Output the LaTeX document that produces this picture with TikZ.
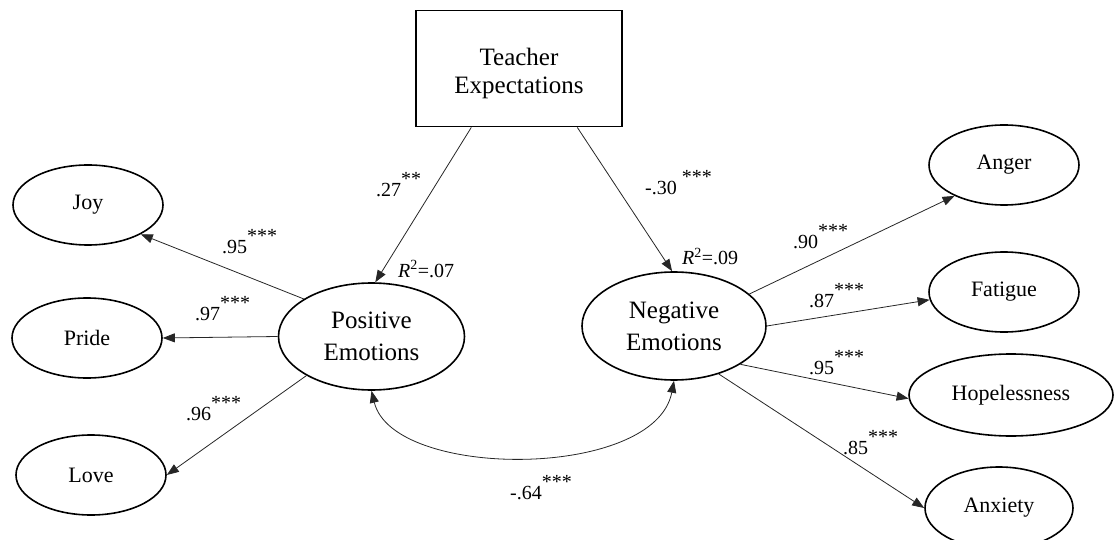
\documentclass[tikz,border=0pt]{standalone}
\usepackage{fontspec}
\setmainfont{Liberation Serif}
\usetikzlibrary{shapes.geometric,arrows.meta}
\newcommand\sigstars[1]{\raisebox{11pt}{#1}}
\begin{document}
\begin{tikzpicture}[x=1pt,y=-1pt,
  latent/.style={ellipse,draw,line width=1.6pt,inner sep=0pt,align=center,
    font=\fontsize{25}{32}\selectfont,minimum width=186pt,minimum height=107pt},
  indicator/.style={ellipse,draw,line width=1.6pt,inner sep=0pt,
    font=\fontsize{22}{26}\selectfont,minimum width=150pt,minimum height=80pt},
  observed/.style={draw,line width=1.4pt,inner sep=0pt,
    font=\fontsize{25}{28.7}\selectfont,minimum width=206pt,minimum height=116pt},
  tip/.tip={Triangle[length=12pt,width=9pt]},
  regpath/.style={draw=black!85,line width=0.8pt,-tip},
  covpath/.style={draw=black!85,line width=0.8pt,tip-tip},
  coef/.style={inner sep=0pt,anchor=base west,font=\fontsize{20}{24}\selectfont},
]
\useasboundingbox (0,0) rectangle (1114,540);

% structural model (extra headroom sets the two lines a little low in the box)
\node[observed] (teacher) at (519,68.7)
  {\raisebox{0pt}[\dimexpr\height+10pt\relax][\depth]{\begin{tabular}{@{}c@{}}Teacher\\Expectations\end{tabular}}};
\node[latent] (pos) at (371.5,336.5) {Positive\\Emotions};
\node[latent,minimum width=184pt,minimum height=108pt] (neg) at (674,326) {Negative\\Emotions};

% indicators of positive emotions
\node[indicator] (joy) at (88,205) {Joy};
\node[indicator] (pride) at (87,338) {Pride};
\node[indicator] (love) at (91,475) {Love};

% indicators of negative emotions
\node[indicator] (anger) at (1004,165) {Anger};
\node[indicator] (fatigue) at (1004,292) {Fatigue};
\node[indicator,minimum width=204pt,minimum height=82pt] (hope) at (1011,395) {Hopelessness};
\node[indicator,minimum width=148pt,minimum height=82pt] (anx) at (999,508) {Anxiety};

% paths
\draw[regpath] ([xshift=56pt]teacher.south west) -- (pos.86);
\draw[regpath] ([xshift=162pt]teacher.south west) -- (neg.92);
\draw[regpath] (pos.151) -- (joy.-29);
\draw[regpath] (pos.west) -- (pride.east);
\draw[regpath] (pos.211) -- (love.east);
\draw[regpath] (neg.23) -- (anger.212);
\draw[regpath] (neg.east) -- (fatigue.186);
\draw[regpath] (neg.-30) -- (hope.182);
\draw[regpath] (neg.-47) -- (anx.west);
\draw[covpath] (pos.south) .. controls (393,480) and (655,480) .. (neg.south);

% coefficients
\node[coef] (c27) at (376,197) {.27\sigstars{**}};
\node[coef] (c30) at (645,195) {-.30 \sigstars{***}};
\node[coef] (r07) at (398,277) {\textit{R}\textsuperscript{2}=.07};
\node[coef] (r09) at (682,265) {\textit{R}\textsuperscript{2}=.09};
\node[coef] (cjoy) at (222,254) {.95\sigstars{***}};
\node[coef] (cpride) at (195,320) {.97\sigstars{***}};
\node[coef] (clove) at (186,420) {.96\sigstars{***}};
\node[coef] (canger) at (793,248) {.90\sigstars{***}};
\node[coef] (cfatigue) at (809,307) {.87\sigstars{***}};
\node[coef] (chope) at (809,374) {.95\sigstars{***}};
\node[coef] (canx) at (843,454) {.85\sigstars{***}};
\node[coef] (ccov) at (510,499) {-.64\sigstars{***}};
\end{tikzpicture}
\end{document}
